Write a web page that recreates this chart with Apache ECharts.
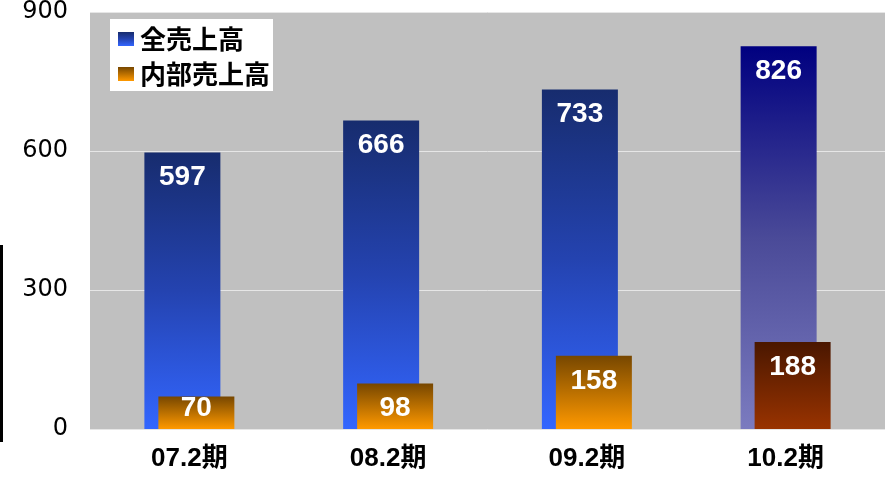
<!DOCTYPE html>
<html>
<head>
<meta charset="utf-8">
<script src="https://cdn.jsdelivr.net/npm/echarts@6/dist/echarts.min.js"></script>
<style>
  html, body { margin: 0; padding: 0; background: #fff; }
  #chart { width: 885px; height: 479px; }
</style>
</head>
<body>
<div id="chart"></div>
<script>
'use strict';

// periods on the x axis
var periods = ['07.2期', '08.2期', '09.2期', '10.2期'];
// total sales and internal sales
var totalSales = [597, 666, 733, 826];
var internalSales = [70, 98, 158, 188];
var seriesNames = ['全売上高', '内部売上高'];
// y axis range
var yMin = 0, yMax = 900, yStep = 300;

var numFont = '"Liberation Sans", "Noto Sans CJK JP", sans-serif';
var cjkFont = '"Noto Sans CJK JP", "Liberation Sans", sans-serif';

//vertical gradient top -> bottom
function grad(top, mid, bottom) {
  var stops = [{ offset: 0, color: top }];
  if (mid) stops.push({ offset: 0.5, color: mid });
  stops.push({ offset: 1, color: bottom });
  return new echarts.graphic.LinearGradient(0, 0, 0, 1, stops);
}

var blue = grad('#172c6e', '#2443b0', '#3366ff');
var blueLast = grad('#000080', '#4a4a98', '#7b7bbf');
var orange = grad('#774700', null, '#ff9900');
var orangeLast = grad('#4a1700', null, '#993300');

var barLabel = {
  show: true,
  position: 'insideTop',
  distance: 11,
  color: '#fff',
  fontSize: 28,
  fontWeight: 'bold',
  fontFamily: numFont
};

var totalData = totalSales.map(function (v, i) {
  return { value: v, itemStyle: { color: i === totalSales.length - 1 ? blueLast : blue } };
});
var internalData = internalSales.map(function (v, i) {
  var d = { value: v, itemStyle: { color: i === internalSales.length - 1 ? orangeLast : orange } };
  //short bar: label sits over the bar
  if (i === 0) {
    d.label = { position: 'inside', offset: [0, -5] };
  }
  return d;
});

var chart = echarts.init(document.getElementById('chart'));
chart.setOption({
  animation: false,
  grid: {
    left: 90, right: 0, top: 11, bottom: 50,
    show: true, backgroundColor: '#c0c0c0', borderWidth: 0
  },
  legend: {
    orient: 'vertical',
    left: 110, top: 19,
    backgroundColor: '#fff',
    padding: [7, 3, 4, 8],
    itemGap: 9,
    itemWidth: 16, itemHeight: 14,
    icon: 'rect',
    textStyle: { color: '#000', fontSize: 26, fontWeight: 'bold', fontFamily: cjkFont, padding: [0, 0, 0, 1] },
    data: seriesNames
  },
  xAxis: {
    type: 'category',
    data: periods,
    axisLine: { show: false },
    axisTick: { show: false },
    axisLabel: { color: '#000', fontSize: 26, fontWeight: 'bold', fontFamily: numFont, margin: 17 }
  },
  yAxis: {
    type: 'value',
    min: yMin, max: yMax, interval: yStep,
    axisLine: { show: false },
    axisTick: { show: false },
    axisLabel: { color: '#000', fontSize: 24, fontWeight: 500, fontFamily: '"DejaVu Sans", sans-serif', margin: 22 },
    splitLine: { lineStyle: { color: '#e6e6e6', width: 1 } }
  },
  graphic: [{
    type: 'rect', left: 0, top: 245,
    shape: { width: 3, height: 197 },
    style: { fill: '#000' }
  }],
  series: [{
    name: seriesNames[0],
    type: 'bar',
    barWidth: 76,
    barGap: '-81.6%',
    itemStyle: { color: blue },
    label: barLabel,
    data: totalData
  }, {
    name: seriesNames[1],
    type: 'bar',
    barWidth: 76,
    itemStyle: { color: orange },
    label: barLabel,
    data: internalData
  }]
});
</script>
</body>
</html>
